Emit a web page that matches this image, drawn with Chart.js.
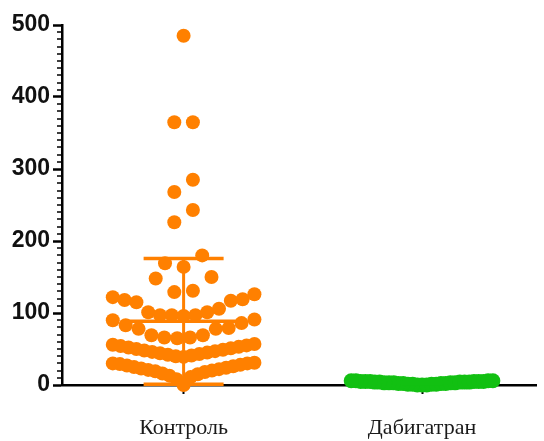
<!DOCTYPE html>
<html>
<head>
<meta charset="utf-8">
<script src="https://cdn.jsdelivr.net/npm/chart.js@4/dist/chart.umd.min.js"></script>
<style>
  html, body { margin: 0; padding: 0; background: #ffffff; }
  canvas { display: block; }
</style>
</head>
<body>
<canvas id="chart" width="544" height="441"></canvas>
<script>
// Group names shown under the x axis
const CATEGORIES = ['Контроль', 'Дабигатран'];

// Individual measurements per group
const CONTROL = [
  0, 8, 11, 13, 15, 16, 18, 19, 20, 21, 22, 23, 24, 25, 26, 27, 28, 29, 30, 30, 31,
  39, 40, 41, 42, 43, 44, 45, 46, 47, 48, 49, 50, 51, 52, 53, 54, 55, 56, 57,
  65, 66, 66, 69, 69, 78, 78, 79, 83, 86, 90, 91,
  96, 97, 97, 97, 101, 101, 106, 115, 117, 118, 119, 122, 126,
  129, 131, 148, 150, 164, 169, 180, 226, 243, 268, 285, 365, 365, 485
];
const DABIGATRAN = [
  0, 0, 0, 1, 1, 1, 1, 2, 2, 2, 2, 3, 3, 3, 3, 3,
  4, 4, 4, 4, 4, 5, 5, 5, 5, 5, 5, 6, 6, 6, 6
];

// Value-axis labels
const Y_TICKS = [0, 100, 200, 300, 400, 500];
const Y_MINOR_STEP = 10;

// Column scatter layout: values are grouped into horizontal rows of SWARM_BIN
// units; inside a row points are sorted and laid out from the centre outwards.
const SWARM_BIN = 32;       // row height, value units
const SWARM_STEP = 0.078;   // preferred horizontal gap, x units
const SWARM_HALF = 0.297;   // widest half-spread of a row, x units

function swarm(values, center) {
  const rows = new Map();
  values.forEach(v => {
    const k = Math.floor(v / SWARM_BIN);
    if (!rows.has(k)) rows.set(k, []);
    rows.get(k).push(v);
  });
  const pts = [];
  rows.forEach(row => {
    row.sort((a, b) => a - b);
    const n = row.length;
    const step = n > 1 ? Math.min(SWARM_STEP, 2 * SWARM_HALF / (n - 1)) : 0;
    row.forEach((v, i) => {
      let off;
      if (n % 2 === 1) {
        if (i === 0) off = 0;
        else off = (i % 2 === 1 ? -1 : 1) * Math.ceil(i / 2) * step;
      } else {
        off = (i % 2 === 0 ? -1 : 1) * (Math.floor(i / 2) + 0.5) * step;
      }
      pts.push({ x: center + off, y: v });
    });
  });
  return pts;
}

function meanSd(values) {
  const n = values.length;
  const mean = values.reduce((s, v) => s + v, 0) / n;
  const varS = values.reduce((s, v) => s + (v - mean) * (v - mean), 0) / (n - 1);
  return { mean, sd: Math.sqrt(varS) };
}

const ORANGE = '#ff8000';
const GREEN = '#12c012';

// Mean line and ±SD whiskers for every group
const meanSdPlugin = {
  id: 'meanSd',
  afterDatasetsDraw(chart) {
    const { ctx, scales: { x, y } } = chart;
    chart.data.datasets.forEach((ds, i) => {
      const { mean, sd } = meanSd(ds.rawValues);
      const cx = x.getPixelForValue(i);
      const yTop = y.getPixelForValue(mean + sd);
      const yBot = y.getPixelForValue(mean - sd);
      const yMean = y.getPixelForValue(mean);
      ctx.save();
      ctx.strokeStyle = ds.backgroundColor;
      ctx.lineCap = 'butt';
      ctx.lineWidth = 3;
      ctx.beginPath();
      ctx.moveTo(cx, yTop); ctx.lineTo(cx, yBot);
      ctx.stroke();
      ctx.lineWidth = 3.5;
      ctx.beginPath();
      ctx.moveTo(cx - ds.capHalf, yTop); ctx.lineTo(cx + ds.capHalf, yTop);
      ctx.moveTo(cx - ds.capHalf, yBot); ctx.lineTo(cx + ds.capHalf, yBot);
      ctx.moveTo(cx - ds.meanHalf, yMean); ctx.lineTo(cx + ds.meanHalf, yMean);
      ctx.stroke();
      ctx.restore();
    });
  }
};

// Short minor ticks on the value axis
const minorTicksPlugin = {
  id: 'minorTicks',
  afterDraw(chart) {
    const { ctx, scales: { y } } = chart;
    const xr = y.right;
    ctx.save();
    ctx.strokeStyle = '#000';
    ctx.lineWidth = 1.6;
    ctx.beginPath();
    for (let v = y.min + Y_MINOR_STEP; v < y.max; v += Y_MINOR_STEP) {
      if (v % 100 === 0) continue;
      const py = Math.round(y.getPixelForValue(v));
      ctx.moveTo(xr - 5, py);
      ctx.lineTo(xr, py);
    }
    ctx.stroke();
    ctx.restore();
  }
};

new Chart(document.getElementById('chart'), {
  type: 'scatter',
  data: {
    datasets: [
      {
        label: CATEGORIES[0],
        data: swarm(CONTROL, 0),
        rawValues: CONTROL,
        backgroundColor: ORANGE,
        borderWidth: 0,
        pointRadius: 7,
        pointHoverRadius: 7,
        capHalf: 40,
        meanHalf: 60,
        clip: false
      },
      {
        label: CATEGORIES[1],
        data: swarm(DABIGATRAN, 1),
        rawValues: DABIGATRAN,
        backgroundColor: GREEN,
        borderWidth: 0,
        pointRadius: 7.5,
        pointHoverRadius: 7.5,
        capHalf: 20,
        meanHalf: 30,
        clip: false
      }
    ]
  },
  options: {
    responsive: false,
    animation: false,
    devicePixelRatio: 1,
    events: [],
    layout: { padding: { top: 25, right: 0, bottom: 0, left: 0 } },
    plugins: { legend: { display: false }, tooltip: { enabled: false } },
    scales: {
      x: {
        type: 'linear',
        min: -0.51,
        max: 1.48,
        afterBuildTicks: s => { s.ticks = CATEGORIES.map((_, i) => ({ value: i })); },
        afterFit: s => { s.height = 56; },
        ticks: {
          autoSkip: false,
          maxRotation: 0,
          padding: 21,
          color: '#1a1a1a',
          font: { family: '"Liberation Serif", "Times New Roman", serif', size: 22 },
          callback: v => CATEGORIES[v] ?? ''
        },
        grid: { drawOnChartArea: false, drawTicks: true, tickLength: 9, tickColor: '#000', tickWidth: 2 },
        border: { display: true, color: '#000', width: 2.5 }
      },
      y: {
        min: 0,
        max: 500,
        afterBuildTicks: s => { s.ticks = Y_TICKS.map(v => ({ value: v })); },
        afterFit: s => { s.width = 62; },
        ticks: {
          padding: 3,
          color: '#111',
          font: { family: '"Liberation Sans", Arial, sans-serif', size: 23, weight: 'bold' },
          callback: v => String(v)
        },
        grid: { drawOnChartArea: false, drawTicks: true, tickLength: 9, tickColor: '#000', tickWidth: 2.5 },
        border: { display: true, color: '#000', width: 2.5 }
      }
    }
  },
  plugins: [meanSdPlugin, minorTicksPlugin]
});
</script>
</body>
</html>
